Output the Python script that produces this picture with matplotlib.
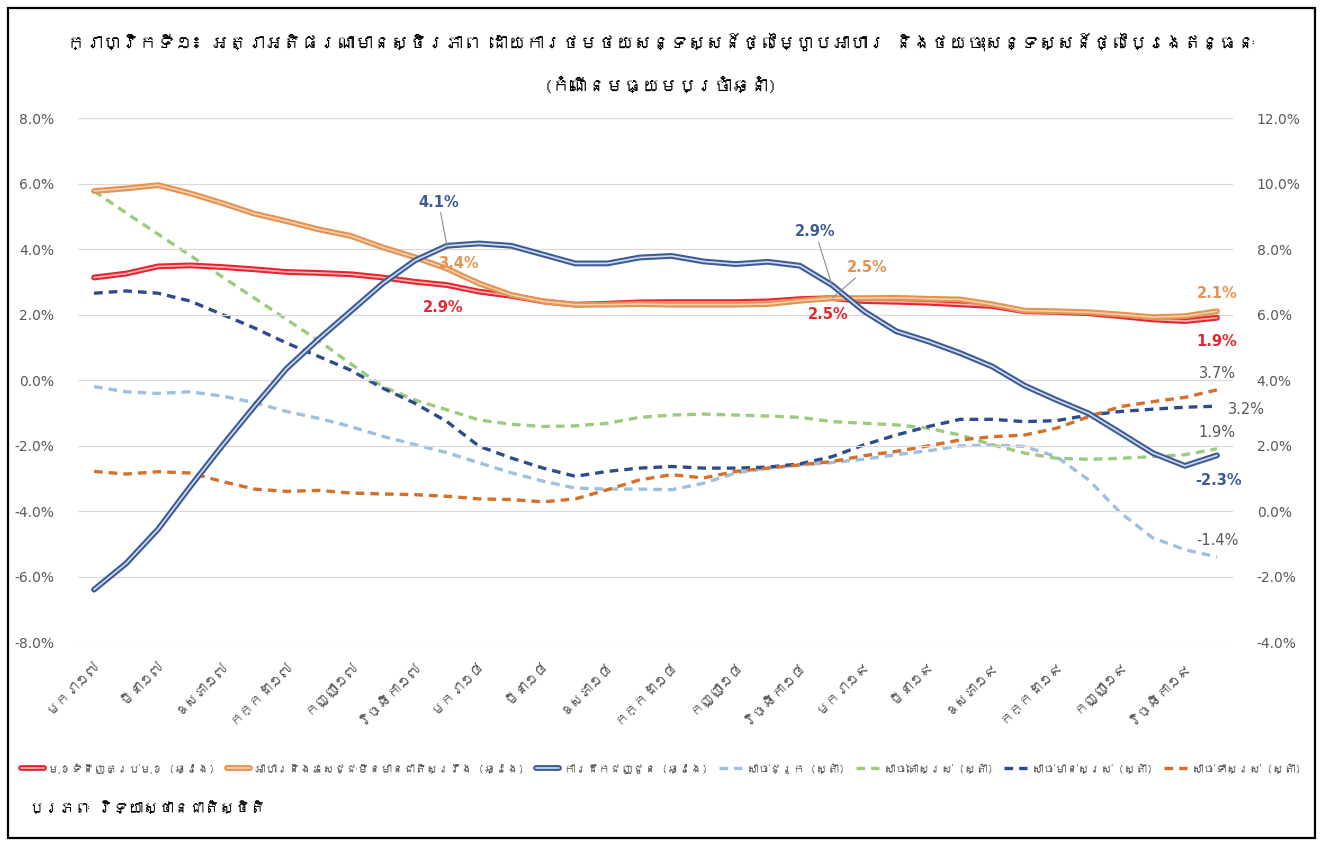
"""Cambodia CPI chart: headline, food and transport inflation vs. meat prices."""

import matplotlib

matplotlib.use("Agg")
import matplotlib.patheffects as pe
from matplotlib import font_manager, ft2font
from matplotlib import pyplot as plt
from matplotlib.patches import Rectangle


def _khmer_family():
    """Return an installed family that covers Khmer, else DejaVu Sans."""
    for entry in font_manager.fontManager.ttflist:
        try:
            if 0x1780 in ft2font.FT2Font(entry.fname).get_charmap():
                return entry.name
        except Exception:
            continue
    return "DejaVu Sans"


KHMER = _khmer_family()
FAMILY = [KHMER, "DejaVu Sans"] if KHMER != "DejaVu Sans" else ["DejaVu Sans"]
plt.rcParams["font.family"] = FAMILY

# ---- data (monthly, Jan 2017 .. Dec 2019) ----
tick_labels = [
    "មករា១៧", "មីនា១៧", "ឧសភា១៧", "កក្កដា១៧", "កញ្ញា១៧", "វិច្ឆិកា១៧",
    "មករា១៨", "មីនា១៨", "ឧសភា១៨", "កក្កដា១៨", "កញ្ញា១៨", "វិច្ឆិកា១៨",
    "មករា១៩", "មីនា១៩", "ឧសភា១៩", "កក្កដា១៩", "កញ្ញា១៩", "វិច្ឆិកា១៩",
]

# left axis
all_items = [3.13, 3.25, 3.47, 3.5, 3.45, 3.38, 3.3, 3.27, 3.23, 3.13, 3.0, 2.9,
             2.7, 2.57, 2.4, 2.3, 2.33, 2.37, 2.38, 2.38, 2.38, 2.4, 2.47, 2.5,
             2.41, 2.39, 2.36, 2.31, 2.26, 2.1, 2.08, 2.04, 1.95, 1.85, 1.8, 1.9]
food = [5.77, 5.85, 5.95, 5.7, 5.4, 5.08, 4.85, 4.6, 4.4, 4.05, 3.75, 3.4,
        2.95, 2.6, 2.4, 2.3, 2.3, 2.32, 2.3, 2.3, 2.3, 2.32, 2.42, 2.5,
        2.5, 2.51, 2.48, 2.46, 2.31, 2.12, 2.1, 2.07, 2.0, 1.92, 1.95, 2.1]
transport = [-6.4, -5.6, -4.55, -3.25, -2.0, -0.8, 0.35, 1.25, 2.1, 2.95, 3.65, 4.1,
             4.17, 4.1, 3.83, 3.56, 3.56, 3.74, 3.79, 3.62, 3.54, 3.61, 3.49, 2.9,
             2.1, 1.49, 1.18, 0.82, 0.41, -0.17, -0.61, -1.02, -1.62, -2.23, -2.62, -2.3]

# right axis
pork = [3.8, 3.64, 3.59, 3.64, 3.51, 3.31, 3.04, 2.83, 2.58, 2.28, 2.03, 1.78,
        1.47, 1.17, 0.91, 0.7, 0.67, 0.67, 0.65, 0.85, 1.16, 1.31, 1.41, 1.48,
        1.58, 1.72, 1.84, 1.99, 2.02, 1.97, 1.66, 0.95, -0.06, -0.82, -1.18, -1.4]
beef = [9.77, 9.1, 8.45, 7.8, 7.15, 6.5, 5.85, 5.2, 4.5, 3.8, 3.39, 3.09,
        2.78, 2.65, 2.58, 2.6, 2.68, 2.86, 2.93, 2.96, 2.93, 2.9, 2.86, 2.73,
        2.68, 2.63, 2.53, 2.32, 2.02, 1.77, 1.61, 1.58, 1.61, 1.66, 1.72, 1.9]
chicken = [6.65, 6.72, 6.65, 6.41, 6.0, 5.59, 5.13, 4.72, 4.3, 3.75, 3.29, 2.73,
           1.98, 1.62, 1.31, 1.06, 1.21, 1.31, 1.36, 1.31, 1.31, 1.34, 1.44, 1.66,
           2.02, 2.32, 2.58, 2.8, 2.8, 2.73, 2.76, 2.93, 3.04, 3.11, 3.17, 3.2]
duck = [1.21, 1.13, 1.2, 1.16, 0.9, 0.67, 0.6, 0.63, 0.55, 0.52, 0.5, 0.45,
        0.37, 0.35, 0.28, 0.37, 0.65, 0.95, 1.11, 1.01, 1.21, 1.31, 1.41, 1.51,
        1.69, 1.82, 1.99, 2.17, 2.27, 2.32, 2.53, 2.88, 3.19, 3.34, 3.47, 3.7]

legend_labels = [
    "មុខទំនិញគ្រប់មុខ (ឆ្វេង)",
    "អាហារនិងភេសជ្ជៈមិនមានជាតិស្រវឹង (ឆ្វេង)",
    "ការដឹកជញ្ជូន (ឆ្វេង)",
    "សាច់ជ្រូក (ស្តាំ)",
    "សាច់គោស្រស់ (ស្តាំ)",
    "សាច់មាន់ស្រស់ (ស្តាំ)",
    "សាច់ទាស្រស់ (ស្តាំ)",
]
title = ("ក្រាហ្វិកទី១៖ អត្រាអតិផរណាមានស្ថិរភាព ដោយការថមថយសន្ទស្សន៍ថ្លៃម្ហូបអាហារ "
         "និងថយចុះសន្ទស្សន៍ថ្លៃប្រេងឥន្ធនៈ\n(កំណើនមធ្យមប្រចាំឆ្នាំ)")
source = "ប្រភពៈ វិទ្យាស្ថានជាតិស្ថិតិ"

GRAY = "#595959"
x = list(range(len(all_items)))

fig = plt.figure(figsize=(13.22, 8.43), dpi=100)
fig.patches.append(Rectangle((0.006, 0.006), 0.989, 0.985, transform=fig.transFigure,
                             fill=False, edgecolor="black", linewidth=1.6))
ax = fig.add_axes([0.059, 0.2384, 0.8737, 0.6216])
ax2 = ax.twinx()


def double_line(axis, values, outer, inner, label):
    (line,) = axis.plot(x, values, color=inner, lw=1.2, label=label, solid_capstyle="round",
                        path_effects=[pe.Stroke(linewidth=4.2, foreground=outer), pe.Normal()])
    return line


def dashed_line(axis, values, color, label):
    (line,) = axis.plot(x, values, color=color, lw=2.4, dashes=(2.6, 1.8), label=label)
    return line


handles = [
    double_line(ax, all_items, "#e52630", "#f8b4b4", legend_labels[0]),
    double_line(ax, food, "#e39352", "#f5d0ae", legend_labels[1]),
    double_line(ax, transport, "#3d5c96", "#d3ddef", legend_labels[2]),
    dashed_line(ax2, pork, "#9dbfe0", legend_labels[3]),
    dashed_line(ax2, beef, "#9ccb7d", legend_labels[4]),
    dashed_line(ax2, chicken, "#2e4c8c", legend_labels[5]),
    dashed_line(ax2, duck, "#d2702c", legend_labels[6]),
]

ax.set_xlim(-0.5, len(x) - 0.5)
ax.set_ylim(-8, 8)
ax2.set_ylim(-4, 12)
ax.set_yticks(range(-8, 9, 2))
ax2.set_yticks(range(-4, 13, 2))
ax.set_yticklabels([f"{v:.1f}%" for v in range(-8, 9, 2)], family="DejaVu Sans")
ax2.set_yticklabels([f"{v:.1f}%" for v in range(-4, 13, 2)], family="DejaVu Sans")
ax.set_xticks(x[::2])
ax.set_xticklabels(tick_labels, rotation=45, ha="right", rotation_mode="anchor", fontsize=10)
ax.grid(axis="y", color="#d9d9d9", lw=0.9)
ax.set_axisbelow(True)
for a in (ax, ax2):
    for s in a.spines.values():
        s.set_visible(False)
    a.tick_params(length=0, colors=GRAY, labelsize=10)
ax.tick_params(axis="y", pad=17)
ax2.tick_params(axis="y", pad=17)
ax.tick_params(axis="x", pad=12)
ax2.set_zorder(ax.get_zorder() - 1)
ax.patch.set_visible(False)

# data labels
lead = dict(arrowstyle="-", color="#8c8c8c", lw=0.8, shrinkA=0, shrinkB=0)
lab = dict(textcoords="offset points", fontsize=10.5, fontweight="bold", family="DejaVu Sans")
ax.annotate(f"{transport[11]:.1f}%", (11, transport[11]), xytext=(-6, 26), ha="center",
            va="bottom", color="#3d5c96", arrowprops=lead, **lab)
ax.annotate(f"{food[11]:.1f}%", (11, food[11]), xytext=(8, 4), ha="center", va="center",
            color="#e39352", **lab)
ax.annotate(f"{all_items[11]:.1f}%", (11, all_items[11]), xytext=(-3, -16), ha="center",
            va="center", color="#e52630", **lab)
ax.annotate(f"{transport[23]:.1f}%", (23, transport[23]), xytext=(-12, 33), ha="center",
            va="bottom", color="#3d5c96", arrowprops=lead, **lab)
ax.annotate(f"{food[23]:.1f}%", (23, food[23]), xytext=(11, 22), ha="left", va="center",
            color="#e39352", arrowprops=lead, **lab)
ax.annotate(f"{all_items[23]:.1f}%", (23, all_items[23]), xytext=(-3, -12), ha="center",
            va="center", color="#e52630", **lab)
ax.annotate(f"{food[35]:.1f}%", (35, food[35]), xytext=(0, 13), ha="center", va="center",
            color="#e39352", **lab)
ax.annotate(f"{all_items[35]:.1f}%", (35, all_items[35]), xytext=(0, -17), ha="center",
            va="center", color="#e52630", **lab)
ax.annotate(f"{transport[35]:.1f}%", (35, transport[35]), xytext=(1, -18), ha="center",
            va="center", color="#3d5c96", **lab)
plain = dict(textcoords="offset points", fontsize=10.5, color=GRAY, family="DejaVu Sans")
ax2.annotate(f"{duck[35]:.1f}%", (35, duck[35]), xytext=(0, 12), ha="center", va="center", **plain)
ax2.annotate(f"{chicken[35]:.1f}%", (35, chicken[35]), xytext=(8, -2), ha="left", va="center", **plain)
ax2.annotate(f"{beef[35]:.1f}%", (35, beef[35]), xytext=(0, 12), ha="center", va="center", **plain)
ax2.annotate(f"{pork[35]:.1f}%", (35, pork[35]), xytext=(0, 12), ha="center", va="center", **plain)

fig.text(0.5, 0.925, title, ha="center", va="center", fontsize=13, fontweight="bold",
         linespacing=2.7)
fig.legend(handles=handles, labels=legend_labels, loc="center", bbox_to_anchor=(0.5, 1 - 768 / 843),
           ncol=7, frameon=False, fontsize=8.3, handlelength=2.0, columnspacing=1.0,
           handletextpad=0.4, labelcolor=GRAY)
fig.text(0.022, 1 - 808 / 843, source, ha="left", va="center", fontsize=11, fontweight="bold")

fig.savefig("out.png", dpi=100)
